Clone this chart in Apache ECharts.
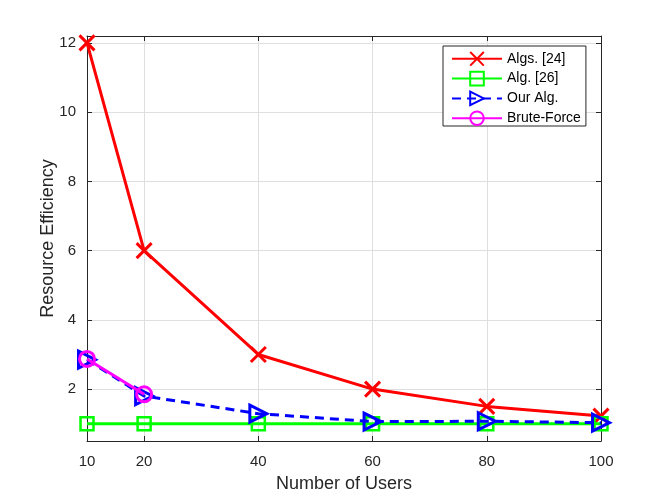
<!DOCTYPE html>
<html>
<head>
<meta charset="utf-8">
<script src="https://cdn.jsdelivr.net/npm/echarts@6/dist/echarts.min.js"></script>
<style>
  html, body { margin: 0; padding: 0; background: #fff; }
  #chart { width: 664px; height: 498px; }
</style>
</head>
<body>
<div id="chart"></div>
<script>
// values
const users = [10, 20, 40, 60, 80, 100]
const algs24 = [12, 6, 3, 2, 1.5, 1.22]
const alg26 = [1, 1, 1, 1, 1, 1]
const ourAlg = [2.85, 1.8, 1.29, 1.06, 1.07, 1.03]
const bruteUsers = [10, 20]
const bruteForce = [2.87, 1.85]
const xTicks = [10, 20, 40, 60, 80, 100]
const yTicks = [2, 4, 6, 8, 10, 12]

const FONT = 'Liberation Sans'
const AXIS = '#262626'
const GRIDLINE = '#dfdfdf'

const pairs = (xs, ys) => xs.map((x, i) => [x, ys[i]])

const crossPath = 'path://M0,0L10,10M0,10L10,0'
const triPath = 'path://M0,0L10,5L0,10Z'

const baseX = {
  type: 'value', min: 10, max: 100,
  axisLine: { show: true, lineStyle: { color: AXIS, width: 1 } },
  axisTick: { show: true, inside: true, length: 5, customValues: xTicks, lineStyle: { color: AXIS } },
  splitLine: { show: false },
}
const baseY = {
  type: 'value', min: 0.5, max: 12.2,
  axisLine: { show: true, lineStyle: { color: AXIS, width: 1 } },
  axisTick: { show: true, inside: true, length: 5, customValues: yTicks, lineStyle: { color: AXIS } },
  splitLine: { show: false },
}

const chart = echarts.init(document.getElementById('chart'))

chart.setOption({
  animation: false,
  backgroundColor: '#fff',
  textStyle: { fontFamily: FONT },
  grid: { left: 87, right: 63, top: 36, bottom: 55, containLabel: false },
  legend: {
    left: 443, top: 46,
    orient: 'vertical',
    itemWidth: 50, itemHeight: 17, itemGap: 4.2,
    padding: [5, 5, 0, 8],
    backgroundColor: '#fff',
    borderColor: AXIS, borderWidth: 1, borderRadius: 0,
    textStyle: { fontFamily: FONT, fontSize: 14, color: '#000' },
    data: ['Algs. [24]', 'Alg. [26]', 'Our Alg.', 'Brute-Force'],
  },
  xAxis: [
    {
      ...baseX,
      name: 'Number of Users', nameLocation: 'middle', nameGap: 34, nameMoveOverlap: false,
      nameTextStyle: { fontFamily: FONT, fontSize: 18, color: AXIS },
      axisLabel: { show: true, customValues: xTicks, margin: 13, fontFamily: FONT, fontSize: 15, color: AXIS },
      splitLine: { show: true, lineStyle: { color: GRIDLINE, width: 1 } },
    },
    { ...baseX, position: 'top', axisLabel: { show: false } },
  ],
  yAxis: [
    {
      ...baseY,
      name: 'Resource Efficiency', nameLocation: 'middle', nameGap: 30, nameMoveOverlap: false,
      nameTextStyle: { fontFamily: FONT, fontSize: 18, color: AXIS },
      axisLabel: { show: true, customValues: yTicks, margin: 11, fontFamily: FONT, fontSize: 15, color: AXIS },
      splitLine: { show: true, lineStyle: { color: GRIDLINE, width: 1 } },
    },
    { ...baseY, position: 'right', axisLabel: { show: false } },
  ],
  series: [
    {
      name: 'Algs. [24]', type: 'line', data: pairs(users, algs24),
      symbol: crossPath, symbolSize: 15,
      lineStyle: { color: '#ff0000', width: 3 },
      itemStyle: { color: 'rgba(0,0,0,0)', borderColor: '#ff0000', borderWidth: 3 },
      z: 2,
    },
    {
      name: 'Alg. [26]', type: 'line', data: pairs(users, alg26),
      symbol: 'rect', symbolSize: 13,
      lineStyle: { color: '#00ff00', width: 3 },
      itemStyle: { color: 'rgba(0,0,0,0)', borderColor: '#00ff00', borderWidth: 2.5 },
      z: 3,
    },
    {
      name: 'Our Alg.', type: 'line', data: pairs(users, ourAlg),
      symbol: triPath, symbolSize: [17, 17],
      lineStyle: { color: '#0000ff', width: 3, type: [9, 6] },
      itemStyle: { color: 'rgba(0,0,0,0)', borderColor: '#0000ff', borderWidth: 3 },
      z: 4,
    },
    {
      name: 'Brute-Force', type: 'line', data: pairs(bruteUsers, bruteForce),
      symbol: 'circle', symbolSize: 15,
      lineStyle: { color: '#ff00ff', width: 3 },
      itemStyle: { color: 'rgba(0,0,0,0)', borderColor: '#ff00ff', borderWidth: 3 },
      z: 5,
    },
  ],
})
</script>
</body>
</html>
